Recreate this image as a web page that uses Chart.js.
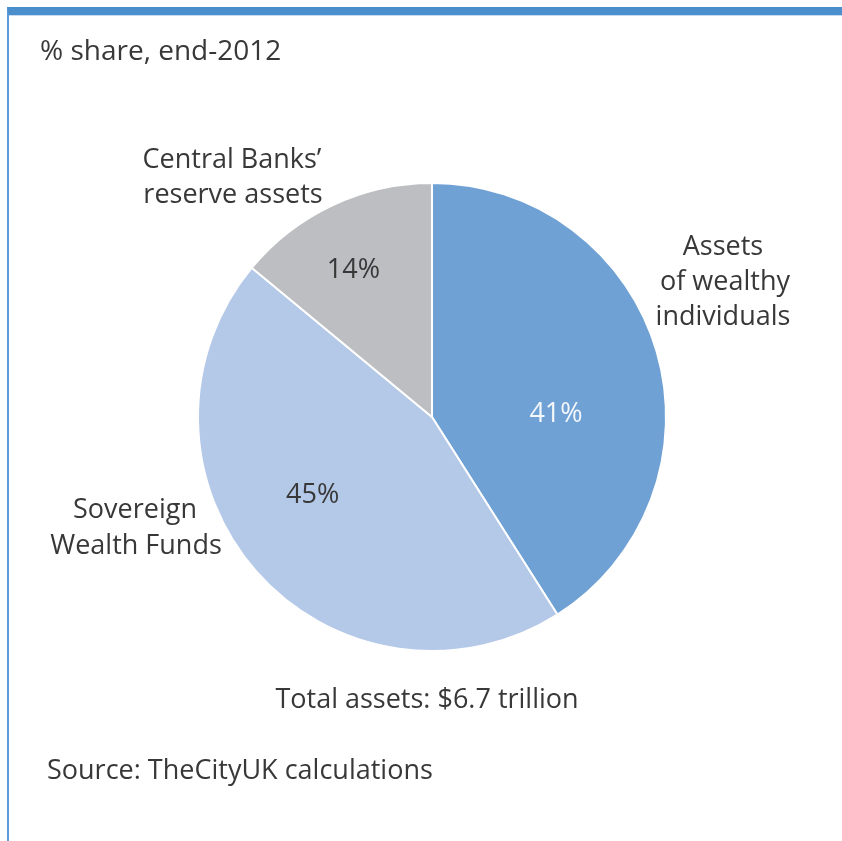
<!DOCTYPE html>
<html>
<head>
<meta charset="utf-8">
<script src="https://cdn.jsdelivr.net/npm/chart.js@4"></script>
<style>
    html, body { margin: 0; padding: 0; background: #fff; }
    #wrap { position: relative; width: 842px; height: 841px; overflow: hidden; }
    #frame {
        position: absolute; left: 7px; top: 7px; right: -10px; bottom: -10px;
        border-top: 8px solid #4a8ecb;
        border-left: 2px solid #5b9bd6;
        box-shadow: inset 0 1px 0 #c5daf0;
    }
    canvas { position: absolute; left: 0; top: 0; }
</style>
</head>
<body>
<div id="wrap">
    <div id="frame"></div>
    <canvas id="pieChart" width="842" height="841"></canvas>
</div>
<script>
// Share of total assets, end-2012 (clockwise from 12 o'clock)
const categories = ['Assets of wealthy individuals', 'Sovereign Wealth Funds', "Central Banks' reserve assets"];
const shares = [41, 45, 14];
const sliceColors = ['#6fa1d4', '#b4c8e8', '#bdbec1'];

const textColor = '#383838';
const fontFamily = '"Open Sans", "Noto Sans", sans-serif';

// Outside labels, one entry per line: [text, x, y, align, size]
const sideLabels = [
    ['% share, end-2012', 40, 52, 'left', 28],
    ['Central Banks\u2019', 232, 160, 'center', 27],
    ['reserve assets', 233, 195, 'center', 27],
    ['Assets', 723, 247, 'center', 27],
    ['of wealthy', 725, 282, 'center', 27],
    ['individuals', 723, 317, 'center', 27],
    ['Sovereign', 135, 510, 'center', 27],
    ['Wealth Funds', 136, 546, 'center', 27],
    ['Total assets: $6.7 trillion', 427, 700, 'center', 27],
    ['Source: TheCityUK calculations', 47, 771, 'left', 27]
];

// Placement of each value label inside its slice:
// fraction along the slice's sweep, fraction of the radius, colour
const valueSweep = [0.6, 0.55, 0.44];
const valueRadius = [0.53, 0.61, 0.71];
const valueColors = ['#f4f7fb', textColor, textColor];

const labelPlugin = {
    id: 'pieLabels',
    afterDatasetsDraw(chart) {
        const ctx = chart.ctx;
        ctx.save();
        ctx.textBaseline = 'middle';

        // percentages inside the slices
        ctx.font = '27px ' + fontFamily;
        const arcs = chart.getDatasetMeta(0).data;
        arcs.forEach((arc, i) => {
            const a = arc.startAngle + (arc.endAngle - arc.startAngle) * valueSweep[i];
            const r = arc.outerRadius * valueRadius[i];
            ctx.fillStyle = valueColors[i];
            ctx.textAlign = 'center';
            ctx.fillText(shares[i] + '%', arc.x + Math.cos(a) * r, arc.y + Math.sin(a) * r);
        });

        // category names, title, total and source
        ctx.fillStyle = textColor;
        sideLabels.forEach(([text, x, y, align, size]) => {
            ctx.font = size + 'px ' + fontFamily;
            ctx.textAlign = align;
            ctx.fillText(text, x, y);
        });
        ctx.restore();
    }
};

new Chart(document.getElementById('pieChart').getContext('2d'), {
    type: 'pie',
    data: {
        labels: categories,
        datasets: [{
            data: shares,
            backgroundColor: sliceColors,
            borderColor: '#ffffff',
            borderWidth: 2
        }]
    },
    options: {
        responsive: false,
        animation: false,
        radius: 234,
        layout: { padding: { left: 22, right: 0, top: 0, bottom: 7 } },
        plugins: {
            legend: { display: false },
            tooltip: { enabled: false }
        }
    },
    plugins: [labelPlugin]
});
</script>
</body>
</html>
